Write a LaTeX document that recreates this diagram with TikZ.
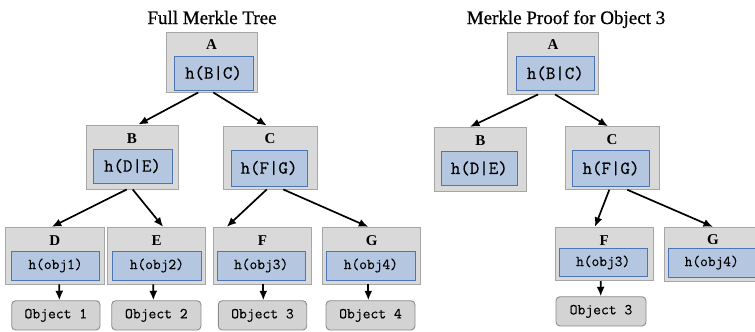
\documentclass[tikz,border=0pt]{standalone}
\usepackage{fontspec}
\setmainfont{Liberation Serif}
\newfontfamily\titlefont{Liberation Serif}[FakeBold=0.8]
\newfontfamily\hashfont{Latin Modern Mono}[FakeBold=0.35]
\usetikzlibrary{arrows.meta,fit,calc}
\definecolor{boxgray}{HTML}{D9D9D9}
\definecolor{boxedge}{HTML}{A6A6A6}
\definecolor{hashfill}{HTML}{B4C6E0}
\definecolor{hashedge}{HTML}{4C75B5}
\definecolor{objfill}{HTML}{D3D3D3}
\definecolor{objedge}{HTML}{8C8C8C}
\begin{document}
\begin{tikzpicture}[x=1bp,y=-1bp,
  outerbox/.style={draw=boxedge, fill=boxgray, line width=0.9bp, inner sep=0pt},
  hashbox/.style={draw=hashedge, fill=hashfill, line width=0.9bp, inner sep=0pt},
  objbox/.style={draw=objedge, fill=objfill, rounded corners=4bp, line width=0.9bp, inner sep=0pt},
  hashtxt/.style={inner sep=0pt, font=\hashfont\fontsize{18.4bp}{20bp}\selectfont},
  leaftxt/.style={inner sep=0pt, font=\hashfont\fontsize{15bp}{17bp}\selectfont},
  objtxt/.style={inner sep=0pt, font=\hashfont\fontsize{15.2bp}{17bp}\selectfont},
  lbl/.style={font=\bfseries\fontsize{15bp}{17bp}\selectfont, inner sep=0pt},
  ttl/.style={font=\titlefont\fontsize{19bp}{22bp}\selectfont, inner sep=0pt, anchor=base},
  arr/.style={line width=1.7bp, -{Latex[length=9.5bp,width=8bp]}}]
\useasboundingbox (0,0) rectangle (755,331);

% ---------- full tree ----------
\node[ttl] (t1) at (212,24) {Full Merkle Tree};

\node[outerbox, fit={(166,32) (257,92)}] (A) {};
\node[lbl] (Al) at (211.5,44.5) {A};
\node[hashbox, fit={(174,56) (253,90)}] (Ah) {};
\node[hashtxt] (Aht) at (Ah.center) {h(B|C)};

\node[outerbox, fit={(86,125) (178,189)}] (B) {};
\node[lbl] (Bl) at (132,138.5) {B};
\node[hashbox, fit={(93,149) (172,183)}] (Bh) {};
\node[hashtxt] (Bht) at (Bh.center) {h(D|E)};

\node[outerbox, fit={(223,126) (317,189)}] (C) {};
\node[lbl] (Cl) at (270,139) {C};
\node[hashbox, fit={(231,150) (307,186)}] (Ch) {};
\node[hashtxt] (Cht) at (Ch.center) {h(F|G)};

\node[outerbox, fit={(5.5,227.3) (104,284)}] (D) {};
\node[lbl] (Dl) at (54.75,240.3) {D};
\node[hashbox, fit={(11.7,251) (99.3,280)}] (Dh) {};
\node[leaftxt] (Dht) at (Dh.center) {h(obj1)};

\node[outerbox, fit={(107.3,227.3) (205,284)}] (E) {};
\node[lbl] (El) at (156.5,240.3) {E};
\node[hashbox, fit={(112.7,251) (201,280)}] (Eh) {};
\node[leaftxt] (Eht) at (Eh.center) {h(obj2)};

\node[outerbox, fit={(213.3,227.3) (311.7,284)}] (F) {};
\node[lbl] (Fl) at (262.5,240.3) {F};
\node[hashbox, fit={(217.3,251) (305,280)}] (Fh) {};
\node[leaftxt] (Fht) at (Fh.center) {h(obj3)};

\node[outerbox, fit={(322.7,227.3) (420.7,284)}] (G) {};
\node[lbl] (Gl) at (371.7,240.3) {G};
\node[hashbox, fit={(326.7,251) (415,280)}] (Gh) {};
\node[leaftxt] (Ght) at (Gh.center) {h(obj4)};

\node[objbox, fit={(11.7,300.7) (100,330)}] (o1) {};
\node[objtxt] (o1t) at (o1.center) {Object 1};
\node[objbox, fit={(111.7,300.7) (201,330)}] (o2) {};
\node[objtxt] (o2t) at (o2.center) {Object 2};
\node[objbox, fit={(218.3,300.7) (306.7,330)}] (o3) {};
\node[objtxt] (o3t) at (o3.center) {Object 3};
\node[objbox, fit={(326,300.7) (415,330)}] (o4) {};
\node[objtxt] (o4t) at (o4.center) {Object 4};

\draw[arr] ($(A.south)+(-13.2,0)$) -- ($(B.north)+(6.3,0)$);
\draw[arr] ($(A.south)+(1.8,0)$) -- ($(C.north)+(-3.3,0)$);
\draw[arr] ($(B.south)+(-5.3,0)$) -- ($(D.north)+(-3,0)$);
\draw[arr] ($(B.south)+(0.7,0)$) -- ($(E.north)+(7,0)$);
\draw[arr] ($(C.south)+(-3.3,0)$) -- ($(F.north)+(-35.8,0)$);
\draw[arr] ($(C.south)+(13.3,0)$) -- ($(G.north)+(-3.4,0)$);
\draw[arr] ($(D.south)+(4.5,0)$) -- ($(o1.north)+(3.5,0)$);
\draw[arr] ($(E.south)+(-2.9,0)$) -- ($(o2.north)+(-3,0)$);
\draw[arr] ($(F.south)+(0.8,0)$) -- ($(o3.north)+(0.8,0)$);
\draw[arr] ($(G.south)+(-3.4,0)$) -- ($(o4.north)+(-2.2,0)$);

% ---------- proof path ----------
\node[ttl] (t2) at (566,24) {Merkle Proof for Object 3};

\node[outerbox, fit={(507.3,32.3) (598.7,94)}] (pA) {};
\node[lbl] (pAl) at (553,44.5) {A};
\node[hashbox, fit={(516,56) (594.7,90.7)}] (pAh) {};
\node[hashtxt] (pAht) at (pAh.center) {h(B|C)};

\node[outerbox, fit={(434,127.3) (526.7,191)}] (pB) {};
\node[lbl] (pBl) at (480.3,140.3) {B};
\node[hashbox, fit={(441.3,151) (517.3,185.7)}] (pBh) {};
\node[hashtxt] (pBht) at (pBh.center) {h(D|E)};

\node[outerbox, fit={(565,126.7) (659,189.3)}] (pC) {};
\node[lbl] (pCl) at (612,139.5) {C};
\node[hashbox, fit={(572.7,150.7) (649.3,186)}] (pCh) {};
\node[hashtxt] (pCht) at (pCh.center) {h(F|G)};

\node[outerbox, fit={(555,227.3) (653.3,280.7)}] (pF) {};
\node[lbl] (pFl) at (604.2,240.3) {F};
\node[hashbox, fit={(559,248.3) (647.3,276.7)}] (pFh) {};
\node[leaftxt] (pFht) at (pFh.center) {h(obj3)};

\node[outerbox, fit={(664,227.3) (762,281.7)}] (pG) {};
\node[lbl] (pGl) at (713,240) {G};
\node[hashbox, fit={(668.3,248.3) (757,277)}] (pGh) {};
\node[leaftxt] (pGht) at (711.7,262.6) {h(obj4)};

\node[objbox, fit={(556,296.7) (646,326)}] (po3) {};
\node[objtxt] (po3t) at (po3.center) {Object 3};

\draw[arr] ($(pA.south)+(-15,0)$) -- ($(pB.north)+(-10.3,0)$);
\draw[arr] ($(pA.south)+(2,0)$) -- ($(pC.north)+(-4,0)$);
\draw[arr] ($(pC.south)+(-2.7,0)$) -- ($(pF.north)+(-9.2,0)$);
\draw[arr] ($(pC.south)+(15.3,0)$) -- ($(pG.north)+(0,0)$);
\draw[arr] ($(pF.south)+(-3.5,0)$) -- ($(po3.north)+(-0.3,0)$);
\end{tikzpicture}
\end{document}
